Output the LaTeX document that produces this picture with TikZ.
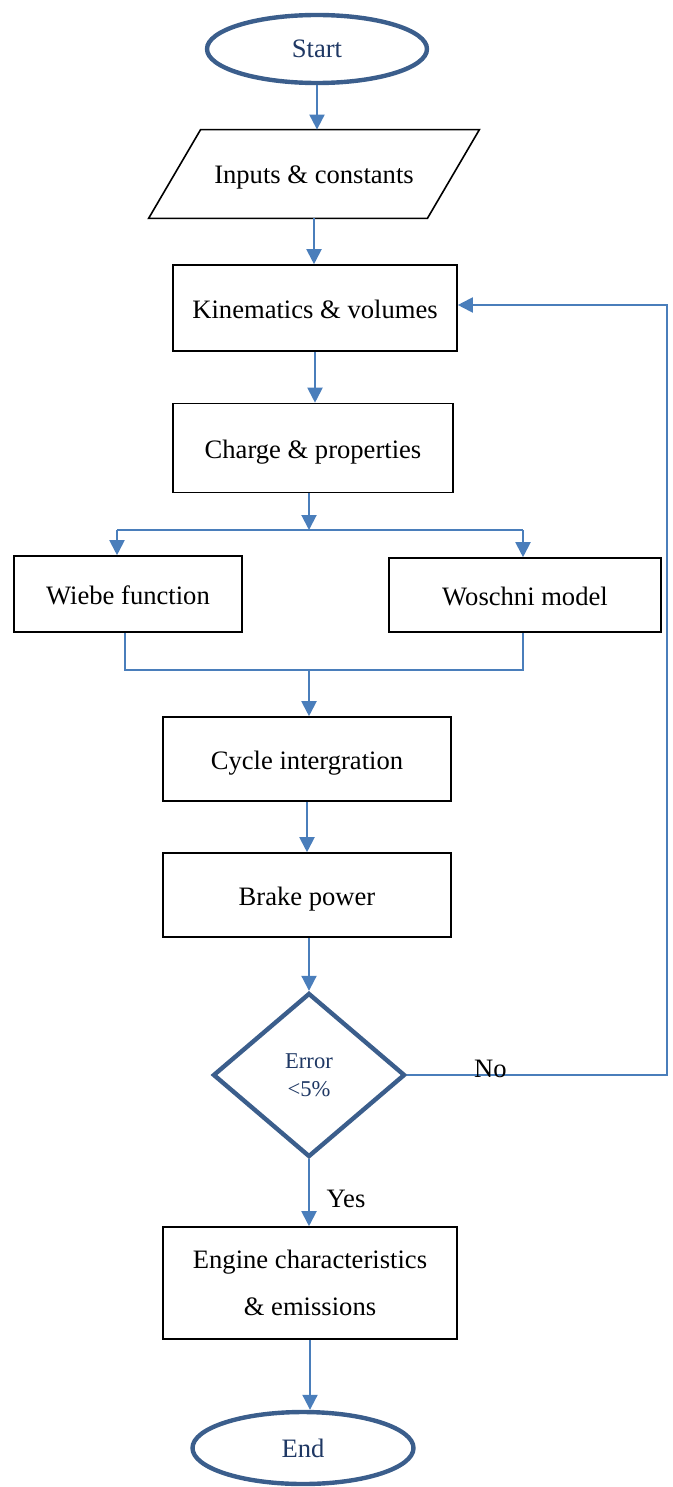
\documentclass[tikz,border=0pt]{standalone}
\usepackage{fontspec}
\setmainfont{Liberation Serif}
\usetikzlibrary{shapes.geometric,arrows.meta,scopes}
\definecolor{flowblue}{HTML}{4A7EBB}
\definecolor{edgeblue}{HTML}{3B5E8C}
\definecolor{navy}{HTML}{1F3864}
\begin{document}
\begin{tikzpicture}[
    x=0.5pt,y=-0.5pt,
    font=\fontsize{13.3}{16}\selectfont,
    box/.style={rectangle,draw=black,fill=white,line width=0.8pt,inner sep=2pt,text height=13pt,text depth=3pt},
    io/.style={rectangle,inner sep=2pt,minimum width=139pt,minimum height=44pt,text height=13pt,text depth=3pt},
    term/.style={ellipse,draw=edgeblue,fill=white,line width=2.2pt,text=navy,inner sep=0pt},
    dec/.style={diamond,draw=edgeblue,fill=white,line width=2.2pt,text=navy,inner sep=0pt,align=center,font=\fontsize{11.3}{14}\selectfont},
    link/.style={draw=flowblue,line width=1pt},
    arr/.style={link,-{Triangle[length=7.5pt,width=7.5pt]}}
]
    \useasboundingbox (0,0) rectangle (673,1487);
    % blocks
    \node[term,minimum width=110pt,minimum height=34pt] (start) at (317,49) {Start};
    \node[io] (inp) at (314,174) {Inputs \& constants};
    \draw[black,line width=0.8pt] ([xshift=13pt]inp.north west) -- ([xshift=13pt]inp.north east)
        -- ([xshift=-13pt]inp.south east) -- ([xshift=-13pt]inp.south west) -- cycle;
    \node[box,minimum width=142pt,minimum height=43pt] (kin) at (315,308) {Kinematics \& volumes};
    \node[box,minimum width=140pt,minimum height=44.5pt] (chg) at (313,448) {Charge \& properties};
    \node[box,minimum width=114pt,minimum height=38pt] (wie) at (128,594) {Wiebe function};
    \node[box,minimum width=136pt,minimum height=37pt] (wos) at (525,595) {Woschni model};
    \node[box,minimum width=144pt,minimum height=42pt] (cyc) at (307,759) {Cycle intergration};
    \node[box,minimum width=144pt,minimum height=42pt] (brk) at (307,895) {Brake power};
    \node[dec,minimum width=96pt,minimum height=82pt,yshift=-1.5pt] (err) at (309,1072) {Error\\<5\%};
    \node[rectangle,draw=black,fill=white,line width=0.8pt,minimum width=147pt,minimum height=56pt,align=center,
        font=\fontsize{13.3}{23.5}\selectfont] (eng) at (310,1283) {Engine characteristics\\\& emissions};
    \node[term,minimum width=110.5pt,minimum height=36pt] (end) at (303,1448) {End};
    % branch and merge points
    \coordinate (bL) at (117,530);
    \coordinate (bR) at (523,530);
    \coordinate (mL) at (125,670);
    \coordinate (mR) at (523,670);
    \coordinate (mM) at (309,670);
    \coordinate (fbB) at (667,1073);
    \coordinate (fbT) at (667,305);
    \draw[link] (bL) -- (bR);
    \draw[link] (mL |- wie.south) -- (mL) -- (mR) -- (mR |- wos.south);
    {[arr]
        \draw (start.south) -- (start.south |- inp.north);
        \draw (inp.south) -- (inp.south |- kin.north);
        \draw (kin.south) -- (kin.south |- chg.north);
        \draw ([xshift=-2pt]chg.south) -- ([xshift=-2pt]chg.south |- bL);
        \draw (bL) -- (bL |- wie.north);
        \draw (bR) -- (bR |- wos.north);
        \draw (mM) -- (mM |- cyc.north);
        \draw (cyc.south) -- (brk.north);
        \draw (err.north |- brk.south) -- (err.north);
        \draw (err.south) -- (err.south |- eng.north) node[pos=0.6,right=5pt,text=black] {Yes};
        \draw (eng.south) -- (eng.south |- end.north);
        \draw (err.east) -- node[pos=0.32,anchor=south,inner sep=0pt,yshift=-2pt,text=black] {No}
            (err.east -| fbB) -- (fbT) -- (fbT -| kin.east);
    }
\end{tikzpicture}
\end{document}
